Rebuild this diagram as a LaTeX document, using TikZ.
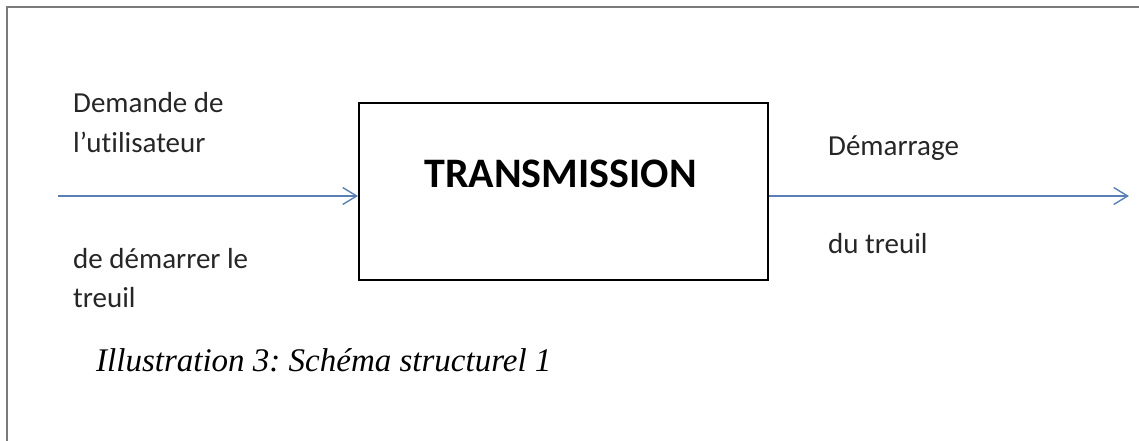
\documentclass[tikz,border=0pt]{standalone}
\usepackage{fontspec}
\setmainfont{Carlito}[Ligatures={NoCommon,NoDiscretionary}]
\newfontfamily\capfont{Liberation Serif}
\usetikzlibrary{arrows.meta}
\definecolor{arrowblue}{HTML}{5A7FB5}
\definecolor{framegray}{HTML}{7A7A7A}
\tikzset{
  lbl/.style={anchor=base west, inner sep=0pt, font=\fontsize{29}{29}\selectfont, text=black!85},
  flow/.style={draw=arrowblue, line width=1.4pt, -{Straight Barb[length=14pt,width=17pt,line width=1.4pt]}},
  block/.style={draw=black, line width=2pt, minimum width=409pt, minimum height=177pt, inner sep=0pt}
}
\frenchspacing
\begin{document}
\begin{tikzpicture}[x=1pt,y=-1pt]
\useasboundingbox (0,0) rectangle (1139,441);
\draw[framegray, line width=2pt] (7,441) -- (7,7) -- (1139,7);
\node[block] (tx) at (563.5,191.5) {};
\node[anchor=base, inner sep=0pt, font=\fontsize{42}{42}\selectfont\bfseries] (txl) at (560.5,187) {TRANSMISSION};
\coordinate (in) at (58,196);
\coordinate (out) at (1129,196);
\draw[flow] (in) -- (tx.west |- in);
\draw[flow] (tx.east |- out) -- (out);
\node[lbl] (l1) at (73,113) {Demande de};
\node[lbl] (l2) at (73,152) {l’utilisateur};
\node[lbl] (l3) at (73,268) {de démarrer le};
\node[lbl] (l4) at (73,307) {treuil};
\node[lbl] (r1) at (828,155) {Démarrage};
\node[lbl] (r2) at (828,253) {du treuil};
\node[anchor=base west, inner sep=0pt, font=\capfont\itshape\fontsize{33}{33}\selectfont] (cap) at (96,371) {Illustration 3: Schéma structurel 1};
\end{tikzpicture}
\end{document}
